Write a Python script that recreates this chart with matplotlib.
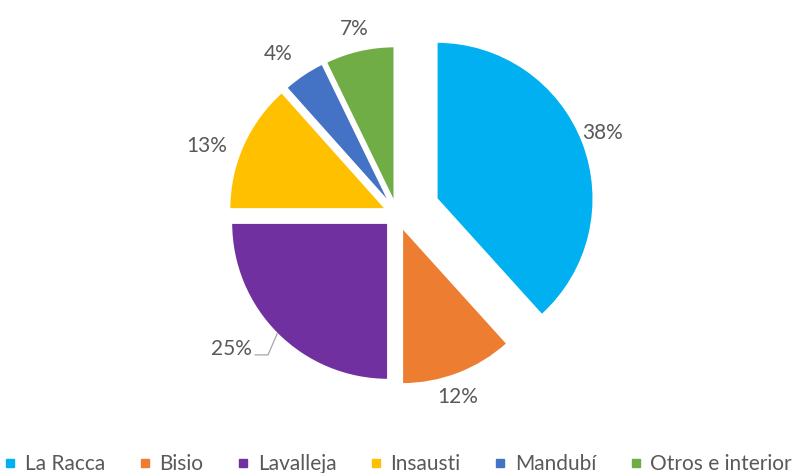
import numpy as np
import matplotlib.pyplot as plt
from matplotlib.lines import Line2D

# Reparto por sede (porcentaje)
sedes = ['La Racca', 'Bisio', 'Lavalleja', 'Insausti', 'Mandubí', 'Otros e interior']
porcentajes = [38.3, 11.7, 25.0, 13.4, 4.4, 7.2]
colores = ['#00B0F0', '#ED7D31', '#7030A0', '#FFC000', '#4472C4', '#70AD47']
separacion = [0.27, 0.09, 0.08, 0.075, 0.07, 0.07]
# distancia y giro (grados) de cada etiqueta respecto al centro de su porcion
dist_etiqueta = [1.14, 1.14, 1.0, 1.21, 1.20, 1.14]
giro_etiqueta = [0.5, -2.8, 0, 4.7, 3.0, 0]

gris = '#595959'
plt.rcParams['font.family'] = ['Lato', 'DejaVu Sans']

fig = plt.figure(figsize=(7.94, 4.73), dpi=100)
ax = fig.add_axes([0, 0, 1, 1])

wedges, textos, pcts = ax.pie(
    porcentajes, colors=colores, explode=separacion, startangle=90,
    counterclock=False, radius=1.0,
    autopct=lambda p: '{:.0f}%'.format(p), pctdistance=1.15,
    wedgeprops=dict(edgecolor='white', linewidth=1.5),
    textprops=dict(color=gris, fontsize=15))

for w, t, d, g in zip(wedges, pcts, dist_etiqueta, giro_etiqueta):
    medio = np.deg2rad((w.theta1 + w.theta2) / 2 + g)
    cx, cy = w.center
    t.set_position((cx + d * np.cos(medio), cy + d * np.sin(medio)))

# Etiqueta de Lavalleja con linea guia
w = wedges[2]
medio = np.deg2rad((w.theta1 + w.theta2) / 2)
cx, cy = w.center
borde = (cx + np.cos(medio), cy + np.sin(medio))
codo = (borde[0] - 0.058, borde[1] - 0.134)
fin = (codo[0] - 0.082, codo[1])
ax.plot([borde[0], codo[0], fin[0]], [borde[1], codo[1], fin[1]],
        color='#A6A6A6', linewidth=0.9)
pcts[2].set_position((fin[0] - 0.02, fin[1]))
pcts[2].set_ha('right')
pcts[2].set_va('baseline')

ax.set_aspect('auto')
ax.set_xlim(-2.529, 2.529)
ax.set_ylim(-1.650, 1.363)
ax.axis('off')

manejadores = [Line2D([0], [0], marker='s', linestyle='', markersize=6,
                      markerfacecolor=c, markeredgecolor=c) for c in colores]
fig.legend(manejadores, sedes, loc='lower center', ncol=6, frameon=False,
           bbox_to_anchor=(0.5, -0.042), fontsize=15, labelcolor=gris,
           handletextpad=0.3, columnspacing=1.5, handlelength=0.8)

fig.savefig('out.png', dpi=100)
